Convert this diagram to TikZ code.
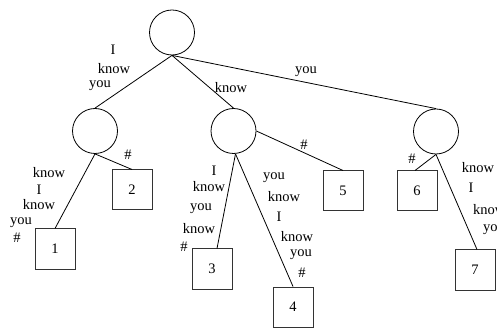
\documentclass[tikz,border=0pt]{standalone}
\usepackage{fontspec}
\setmainfont{Liberation Serif}
\usetikzlibrary{calc}
\begin{document}
\begin{tikzpicture}[x=1pt,y=-1pt,
  inode/.style={circle,draw,minimum size=45pt,inner sep=0pt,line width=0.8pt},
  leaf/.style={rectangle,draw=black!80,minimum size=40pt,inner sep=0pt,line width=1pt,font=\fontsize{14.5}{16}\selectfont},
  lbl/.style={inner sep=0pt,font=\fontsize{14.5}{16}\selectfont},
  edge/.style={line width=0.8pt}]
\useasboundingbox (0,0) rectangle (497,328);
% internal nodes
\node[inode] (R) at (172,32.5) {};
\node[inode] (L) at (95,131) {};
\node[inode] (M) at (233.5,131) {};
\node[inode] (N) at (436,131.5) {};
% leaves
\node[leaf] (B1) at (55,249) {1};
\node[leaf] (B2) at (132,190) {2};
\node[leaf] (B3) at (212,269) {3};
\node[leaf] (B4) at (293,307) {4};
\node[leaf] (B5) at (343,191) {5};
\node[leaf] (B6) at (417,191) {6};
\node[leaf] (B7) at (475,270) {7};
% edges
\draw[edge] (R.south) -- (L.north);
\draw[edge] (R.south) -- (M.north);
\draw[edge] (R.south) -- (N.north);
\draw[edge] (L.south) -- (B1.north);
\draw[edge] (L.south) -- (B2.north);
\draw[edge] ($(M.south)+(2,0)$) -- ($(B3.north)+(5,0)$);
\draw[edge] ($(M.south)+(2,0)$) -- (B4.north);
\draw[edge] (M.east) -- (B5.north);
\draw[edge] (N.south) -- ($(B6.north)+(-2,0)$);
\draw[edge] (N.south) -- ($(B7.north)+(2,0)$);
% labels root-left
\node[lbl] (a1) at (113,50) {I};
\node[lbl] (a2) at (114,69) {know};
\node[lbl] (a3) at (100,86) {you};
% root-middle
\node[lbl] (b1) at (231,88) {know};
% root-right
\node[lbl] (c1) at (306,72) {you};
% left -> 1
\node[lbl] (d1) at (49,173) {know};
\node[lbl] (d2) at (39,190) {I};
\node[lbl] (d3) at (39,205) {know};
\node[lbl] (d4) at (21,223) {you};
\node[lbl] (d5) at (17,238) {\#};
% left -> 2
\node[lbl] (e1) at (128,155) {\#};
% middle -> 3
\node[lbl] (f1) at (214,171) {I};
\node[lbl] (f2) at (209,187) {know};
\node[lbl] (f3) at (201,209) {you};
\node[lbl] (f4) at (199,229) {know};
\node[lbl] (f5) at (184,247) {\#};
% middle -> 4
\node[lbl] (g1) at (274,178) {you};
\node[lbl] (g2) at (284,197) {know};
\node[lbl] (g3) at (279,217) {I};
\node[lbl] (g4) at (297,237) {know};
\node[lbl] (g5) at (301,255) {you};
\node[lbl] (g6) at (302,273) {\#};
% middle -> 5
\node[lbl] (h1) at (304,145) {\#};
% right -> 6
\node[lbl] (i1) at (412,159) {\#};
% right -> 7
\node[lbl] (j1) at (478,168) {know};
\node[lbl] (j2) at (471,188) {I};
\node[lbl,anchor=west] (j3) at (473,210) {know};
\node[lbl,anchor=west] (j4) at (483,230) {you};
\end{tikzpicture}
\end{document}
